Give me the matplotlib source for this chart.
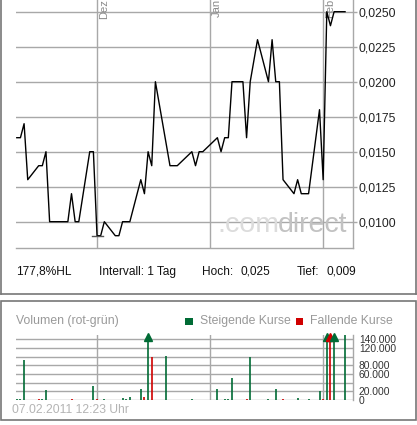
import numpy as np
import matplotlib
matplotlib.use("Agg")
import matplotlib.pyplot as plt
from matplotlib.patches import Rectangle
from matplotlib.lines import Line2D

# ---------------- data ----------------
price_dates = ['2010-11-09', '2010-11-10', '2010-11-11', '2010-11-12', '2010-11-15', '2010-11-16',
               '2010-11-17', '2010-11-18', '2010-11-23', '2010-11-24', '2010-11-25', '2010-11-26',
               '2010-11-29', '2010-11-30', '2010-12-01', '2010-12-02', '2010-12-03', '2010-12-06',
               '2010-12-07', '2010-12-08', '2010-12-10', '2010-12-13', '2010-12-14', '2010-12-15',
               '2010-12-16', '2010-12-17', '2010-12-21', '2010-12-23', '2010-12-27', '2010-12-28',
               '2010-12-29', '2010-12-30', '2011-01-03', '2011-01-04', '2011-01-05', '2011-01-06',
               '2011-01-07', '2011-01-10', '2011-01-11', '2011-01-12', '2011-01-14', '2011-01-17',
               '2011-01-18', '2011-01-19', '2011-01-20', '2011-01-21', '2011-01-24', '2011-01-25',
               '2011-01-26', '2011-01-28', '2011-01-31', '2011-02-01', '2011-02-02', '2011-02-03',
               '2011-02-04', '2011-02-07']
price_values = [0.016, 0.016, 0.017, 0.013, 0.014, 0.014,
                0.015, 0.010, 0.010, 0.012, 0.010, 0.010,
                0.015, 0.015, 0.009, 0.009, 0.010, 0.009,
                0.009, 0.010, 0.010, 0.013, 0.012, 0.015,
                0.014, 0.020, 0.014, 0.014, 0.015, 0.014,
                0.015, 0.015, 0.016, 0.015, 0.016, 0.016,
                0.020, 0.020, 0.016, 0.020, 0.023, 0.020,
                0.023, 0.020, 0.020, 0.013, 0.012, 0.013,
                0.012, 0.012, 0.018, 0.013, 0.025, 0.024,
                0.025, 0.025]

vol_dates = ['2010-11-09', '2010-11-10', '2010-11-11', '2010-11-15', '2010-11-16', '2010-11-17',
             '2010-11-24', '2010-11-30', '2010-12-01', '2010-12-03', '2010-12-08', '2010-12-09',
             '2010-12-10', '2010-12-13', '2010-12-14', '2010-12-15', '2010-12-16', '2010-12-20',
             '2010-12-27', '2011-01-03', '2011-01-05', '2011-01-06', '2011-01-07', '2011-01-11',
             '2011-01-12', '2011-01-17', '2011-01-19', '2011-01-21', '2011-01-25', '2011-01-28',
             '2011-01-31', '2011-02-01', '2011-02-02', '2011-02-03', '2011-02-04', '2011-02-07']
vol_values = [2500, 3000, 93000, 2500, 2500, 23000,
              2500, 32000, 2500, 2500, 5000, 2500,
              7500, 25000, 7500, 300000, 99000, 101000,
              2500, 25000, 2500, 2500, 51000, 2500,
              99000, 3000, 26000, 2500, 5000, 2500,
              21000, 2500, 300000, 300000, 300000, 150000]
vol_rising = [1, 1, 1, 0, 1, 1,
              0, 1, 0, 1, 1, 1,
              1, 1, 0, 1, 0, 1,
              1, 1, 1, 1, 1, 0,
              1, 1, 1, 0, 1, 1,
              1, 0, 1, 0, 1, 1]

month_dates = ['2010-12-01', '2011-01-01', '2011-02-01']
month_labels = ['Dez', 'Jan', 'Feb']
price_ticks = [0.0100, 0.0125, 0.0150, 0.0175, 0.0200, 0.0225, 0.0250]
vol_ticks = [0, 20000, 40000, 60000, 80000, 100000, 120000, 140000]
vol_tick_labels = ['0', '20.000', '', '60.000', '80.000', '', '120.000', '140.000']

# ---------------- helpers ----------------
W, H = 417, 425
origin = np.datetime64('2010-12-01')
def days(ds):
    return (np.array(ds, dtype='datetime64[D]') - origin).astype(float)
def fx(x):
    return x / W
def fy(y):
    return 1 - y / H

x_price = days(price_dates)
x_vol = days(vol_dates)
x_month = days(month_dates)

GRID = '#a8a8a8'
GREEN = '#006b35'
RED = '#d00000'
FONT = ['Liberation Sans', 'DejaVu Sans']

plt.rcParams['font.family'] = FONT
fig = plt.figure(figsize=(W / 100, H / 100), dpi=100)
fig.patch.set_facecolor('white')

XL = (-22.3, 70.1)

# ---------------- price axes ----------------
ax = fig.add_axes([fx(15.7), fy(248), fx(352.7) - fx(15.7), fy(0) - fy(248)])
ax.set_xlim(*XL)
ax.set_ylim(0.008121, 0.025836)
ax.set_facecolor('white')
for t in price_ticks:
    ax.axhline(t, color=GRID, lw=1.0, zorder=1)
for xm in x_month:
    ax.axvline(xm, color=GRID, lw=1.0, zorder=1)
ax.plot(x_price, price_values, color='black', lw=1.0, zorder=3)
# low marker
imin = int(np.argmin(price_values))
ax.plot([x_price[imin] - 1.3, x_price[imin] + 1.7], [price_values[imin]] * 2, color='#555555', lw=1.0, zorder=3)
for s in ['left', 'top']:
    ax.spines[s].set_visible(False)
for s in ['right', 'bottom']:
    ax.spines[s].set_color(GRID)
    ax.spines[s].set_linewidth(1.0)
ax.set_xticks([])
ax.yaxis.tick_right()
ax.set_yticks(price_ticks)
ax.set_yticklabels([('%.4f' % t).replace('.', ',') for t in price_ticks])
ax.tick_params(axis='y', length=3, width=1, color=GRID, pad=1.5, labelsize=8.7, labelcolor='#222222')

# month labels (rotated)
for xm, lab in zip(x_month, month_labels):
    ax.text(xm + 0.45, 0.02590, lab, rotation=90, ha='left', va='top', fontsize=8.0,
            color='#8a8a8a', clip_on=True, zorder=2)

# watermark
fig.text(fx(217), fy(225), '.com', fontsize=20.5, color='#dcdcdc', ha='left', va='center',
         family=['Liberation Sans'])
fig.text(fx(278), fy(225), 'direct', fontsize=20.5, color='#c2c2c2', ha='left', va='center',
         family=['Liberation Sans'])

# ---------------- info row ----------------
info_kw = dict(fontsize=8.6, color='#111111', va='center', ha='left')
fig.text(fx(15.7), fy(272), '177,8%HL', **info_kw)
fig.text(fx(99.3), fy(272), 'Intervall: 1 Tag', **info_kw)
fig.text(fx(202.3), fy(272), 'Hoch:', **info_kw)
fig.text(fx(241), fy(272), '0,025', **info_kw)
fig.text(fx(297), fy(272), 'Tief:', **info_kw)
fig.text(fx(326.7), fy(272), '0,009', **info_kw)

# panel frames
fig.add_artist(Line2D([fx(0.5), fx(0.5)], [fy(0), fy(294)], color='#777777', lw=1.2))
fig.add_artist(Line2D([fx(416), fx(416)], [fy(0), fy(294)], color='#777777', lw=1.2))
fig.add_artist(Line2D([fx(0.5), fx(416)], [fy(294), fy(294)], color='#777777', lw=1.2))
fig.add_artist(Rectangle((fx(0.5), fy(419.5)), fx(415.5) - fx(0.5), fy(301) - fy(419.5),
                         fill=False, edgecolor='#777777', lw=1.2))

# ---------------- volume axes ----------------
vx = fig.add_axes([fx(15.7), fy(400), fx(352.7) - fx(15.7), fy(335) - fy(400)])
vx.set_xlim(*XL)
YTOP = 150000
vx.set_ylim(0, YTOP)
for t in vol_ticks:
    vx.axhline(t, color=GRID, lw=1.0, zorder=1)
for xm in x_month:
    vx.axvline(xm, color=GRID, lw=1.0, zorder=1)
cols = [GREEN if r else RED for r in vol_rising]
vx.vlines(x_vol, 0, np.minimum(vol_values, YTOP), colors=cols, lw=1.2, zorder=3)
for xv, v, c in zip(x_vol, vol_values, cols):
    if v > YTOP:
        vx.plot([xv], [YTOP * 0.965], marker='^', ms=6, color=c, mec=c, clip_on=False, zorder=4)
for s in ['left', 'top', 'bottom']:
    vx.spines[s].set_visible(False)
vx.spines['right'].set_color(GRID)
vx.spines['right'].set_linewidth(1.0)
vx.set_xticks([])
vx.yaxis.tick_right()
vx.set_yticks(vol_ticks)
vx.set_yticklabels(vol_tick_labels)
vx.tick_params(axis='y', length=0, pad=4.5, labelsize=7.4, labelcolor='#333333')

# volume header / legend
gkw = dict(fontsize=8.8, color='#999999', va='center', ha='left')
fig.text(fx(15.7), fy(321), 'Volumen (rot-grün)', **gkw)
fig.add_artist(Rectangle((fx(185.3), fy(324.7)), fx(7.3), fy(318) - fy(324.7), color=GREEN, lw=0))
fig.text(fx(200), fy(321), 'Steigende Kurse', **gkw)
fig.add_artist(Rectangle((fx(295.7), fy(324.7)), fx(7.3), fy(318) - fy(324.7), color=RED, lw=0))
fig.text(fx(310), fy(321), 'Fallende Kurse', **gkw)
fig.text(fx(12.3), fy(410), '07.02.2011 12:23 Uhr', fontsize=8.7, color='#b4b4b4', va='center', ha='left')

fig.savefig('out.png', dpi=100, facecolor='white')
